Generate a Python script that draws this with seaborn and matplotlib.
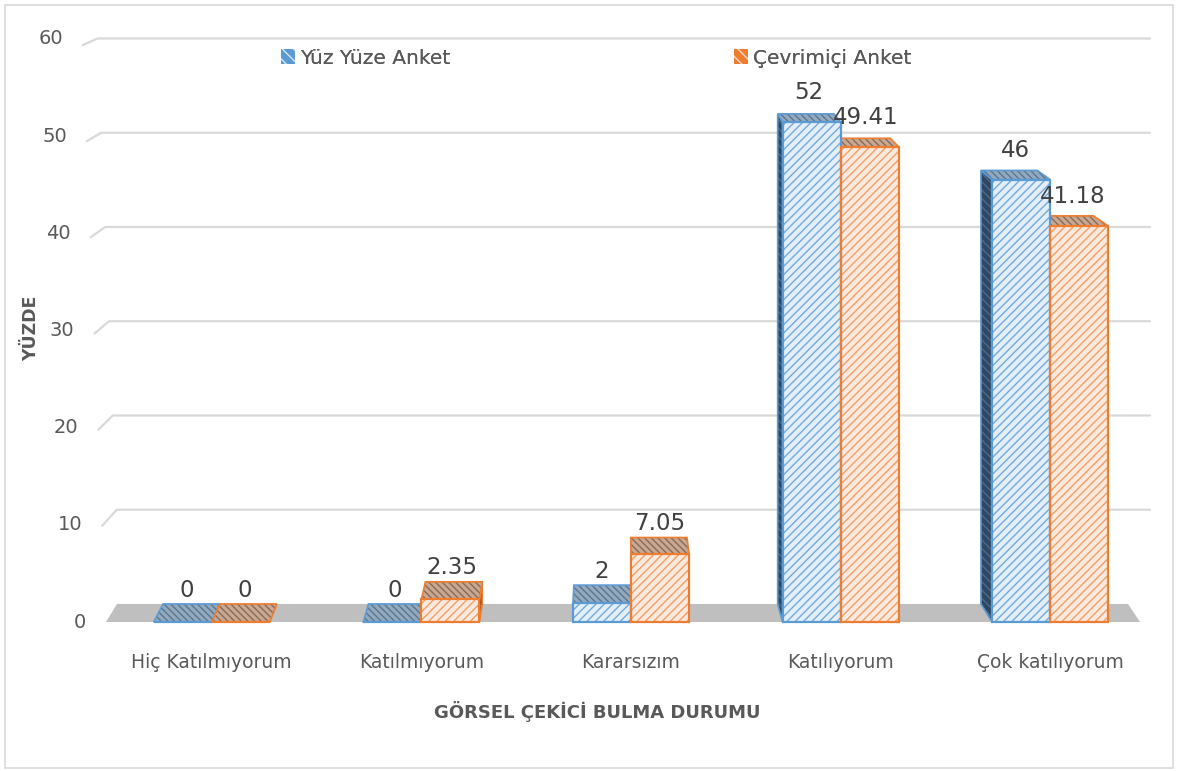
import matplotlib
matplotlib.use("Agg")
import matplotlib.pyplot as plt
import numpy as np
import pandas as pd
import seaborn as sns
from matplotlib.patches import Polygon, Rectangle, Patch
from matplotlib.lines import Line2D

# ---- data -------------------------------------------------------------
categories = ["Hiç Katılmıyorum", "Katılmıyorum", "Kararsızım", "Katılıyorum", "Çok katılıyorum"]
series = ["Yüz Yüze Anket", "Çevrimiçi Anket"]
yuz_yuze = [0, 0, 2, 52, 46]
cevrimici = [0, 2.35, 7.05, 49.41, 41.18]
y_ticks = [0, 10, 20, 30, 40, 50, 60]
x_title = "GÖRSEL ÇEKİCİ BULMA DURUMU"
y_title = "YÜZDE"

df = pd.DataFrame({
    "kategori": categories * 2,
    "anket": [series[0]] * len(categories) + [series[1]] * len(categories),
    "yuzde": yuz_yuze + cevrimici,
})

# ---- styling ----------------------------------------------------------
W, H = 1178, 771
sns.set_theme(style="white")
plt.rcParams["font.family"] = ["DejaVu Sans"]
plt.rcParams["hatch.linewidth"] = 1.0
TXT = "#595959"
GRID = "#D9D9D9"
FACE = {
    series[0]: dict(edge="#5B9BD5", fill="#E2EEF9", hatch="#74A8DB", top="#93A9BE",
                    top_h="#5A7690", side="#2E4864", side_h="#4D6A88",
                    key="#5B9BD5", key_h="#D6E6F5"),
    series[1]: dict(edge="#ED7D31", fill="#FDEADF", hatch="#F39E66", top="#C8A892",
                    top_h="#8C6A55", side="#7A4A2A", side_h="#A0694A",
                    key="#ED7D31", key_h="#FBD9C3"),
}

fig = plt.figure(figsize=(W / 100, H / 100), dpi=100)
ax = fig.add_axes([107 / W, (H - 622) / H, 1048 / W, 577 / H])

sns.barplot(data=df, x="kategori", y="yuzde", hue="anket", order=categories,
            hue_order=series, width=0.554, dodge=True, legend=False,
            ax=ax, zorder=4, saturation=1)
ax.set_xlim(-0.5, len(categories) - 0.5)
ax.set_ylim(y_ticks[0], y_ticks[-1])
for s in ax.spines.values():
    s.set_visible(False)
ax.set_yticks([])
ax.set_xlabel("")
ax.set_ylabel("")
ax.tick_params(axis="x", length=0, pad=22, labelsize=13.5, labelcolor=TXT)

# front faces: hatched fill plus a crisp outline
for cont, name in zip(ax.containers, series):
    c = FACE[name]
    for bar in cont:
        bar.set_facecolor(c["fill"])
        bar.set_edgecolor(c["hatch"])
        bar.set_linewidth(0)
        bar.set_hatch("////")
        ax.add_patch(Rectangle(bar.get_xy(), bar.get_width(), bar.get_height(),
                               fill=False, edgecolor=c["edge"], linewidth=1.6,
                               zorder=5, clip_on=False))


# ---- pixel helpers (top-left origin) ----------------------------------
VANISH_X = 620


def px(x, y):
    X, Y = ax.transData.transform((x, y))
    return X, H - Y


def dat(X, Yt):
    return ax.transData.inverted().transform((X, H - Yt))


def depth(X, Yt):
    """Receding offset of a point on the front plane."""
    k = 0.03 if X > VANISH_X else 0.02
    return -k * (X - VANISH_X), max(6.0, 8 + 0.02 * (Yt - 120))


def poly(points, face, hatch=None, hatch_col=None, edge=None, z=2, lw=1.2):
    pts = [dat(X, Y) for X, Y in points]
    if hatch:
        ax.add_patch(Polygon(pts, closed=True, facecolor=face, edgecolor=hatch_col,
                             hatch=hatch, linewidth=0, zorder=z, clip_on=False))
    else:
        ax.add_patch(Polygon(pts, closed=True, facecolor=face, edgecolor="none",
                             zorder=z, clip_on=False))
    if edge:
        ax.add_patch(Polygon(pts, closed=True, fill=False, edgecolor=edge,
                             linewidth=lw, zorder=z, clip_on=False))


# back wall gridlines with their left-wall segments, and the value scale
for v in y_ticks[1:]:
    _, Yf = px(0, v)
    frac = v / y_ticks[-1]
    Xf = 106 - 23 * frac
    _, dy = depth(Xf, Yf)
    Xb = Xf + 14.5
    Yb = Yf - dy
    pts = [dat(Xf, Yf), dat(Xb, Yb), dat(1150, Yb)]
    ax.add_line(Line2D([p[0] for p in pts], [p[1] for p in pts], color=GRID,
                       lw=1.6, zorder=1, clip_on=False))
    ax.text(*dat(Xf - 20, Yf - 6 * frac), f"{v}", ha="right", va="center",
            fontsize=14, color=TXT)
_, Y0 = px(0, 0)
ax.text(*dat(106 - 20, Y0), f"{y_ticks[0]}", ha="right", va="center",
        fontsize=14, color=TXT)

# floor
_, dy0 = depth(106, Y0)
poly([(106, Y0), (1140, Y0), (1128, Y0 - dy0), (117, Y0 - dy0)], "#BFBFBF", z=1)

# 3D faces, drawn from the outermost bars inward
bars = []
for cont, name in zip(ax.containers, series):
    for bar in cont:
        bars.append((bar, name))
bars.sort(key=lambda b: -abs(px(b[0].get_x() + b[0].get_width() / 2, 0)[0] - VANISH_X))

for bar, name in bars:
    c = FACE[name]
    x0, w, h = bar.get_x(), bar.get_width(), bar.get_height()
    L, T = px(x0, h)
    R, _ = px(x0 + w, h)
    _, B = px(x0, 0)
    dxL, dy = depth(L, T)
    dxR, _ = depth(R, T)
    dxLb, dyb = depth(L, B)
    dxRb, _ = depth(R, B)
    if h > 0 and dxL < -1.5:
        poly([(L, T), (L + dxL, T - dy), (L + dxLb, B - dyb), (L, B)],
             c["side"], "\\\\\\\\", c["side_h"], c["edge"], z=2)
    if h > 0 and dxR > 1.5:
        poly([(R, T), (R + dxR, T - dy), (R + dxRb, B - dyb), (R, B)],
             c["side"], "\\\\\\\\", c["side_h"], c["edge"], z=2)
    poly([(L, T), (R, T), (R + dxR, T - dy), (L + dxL, T - dy)],
         c["top"], "\\\\\\\\\\", c["top_h"], c["edge"], z=3)
    # value label above the top face
    cx = (L + R) / 2 + (dxL + dxR) / 4
    gap = 2 + 0.015 * (Y0 - T)
    ax.text(*dat(cx, T - dy - gap), f"{h:g}", ha="center", va="bottom",
            fontsize=16.5, color="#404040", zorder=6)

# axis titles
fig.text(31 / W, 1 - 328 / H, y_title, rotation=90, ha="center", va="center",
         fontsize=12.5, fontweight="bold", color=TXT)
fig.text(597 / W, 1 - 712 / H, x_title, ha="center", va="center",
         fontsize=13, fontweight="bold", color=TXT)

# legend entries
for name, xpos in zip(series, [281, 734]):
    c = FACE[name]
    handle = Patch(facecolor=c["key"], edgecolor=c["key_h"], hatch="\\\\\\",
                   linewidth=0)
    lg = fig.legend([handle], [name], loc="center left",
                    bbox_to_anchor=(xpos / W, 1 - 58 / H), frameon=False,
                    fontsize=14.5, labelcolor=TXT, handlelength=0.7,
                    handleheight=0.7, handletextpad=0.25, borderpad=0,
                    borderaxespad=0)
    fig.add_artist(lg)

# chart border
fig.add_artist(Rectangle((5 / W, 3 / H), 1168 / W, 763 / H, transform=fig.transFigure,
                         fill=False, edgecolor=GRID, linewidth=1.2))

fig.savefig("out.png", dpi=100)
